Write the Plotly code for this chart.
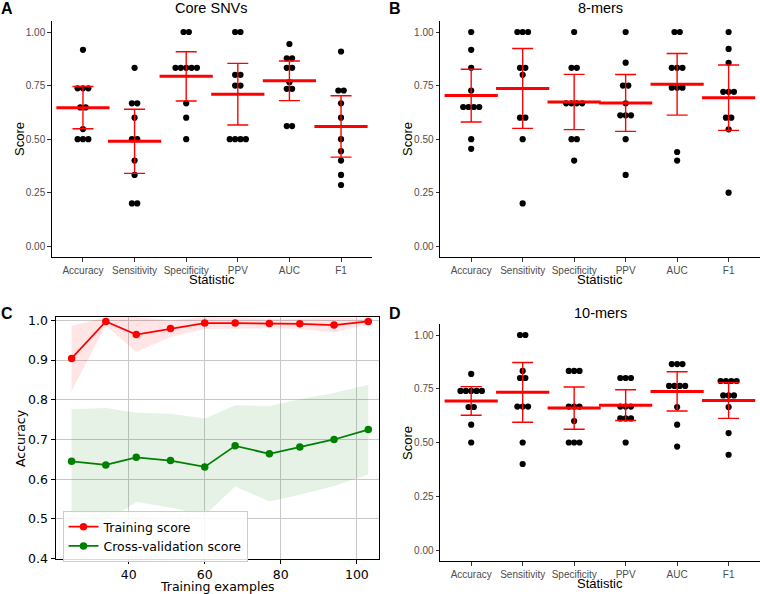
import plotly.graph_objects as go

W, H = 760, 594

categories = ["Accuracy", "Sensitivity", "Specificity", "PPV", "AUC", "F1"]

# Panel A: Core SNVs (10 folds per statistic)
core_accuracy = [0.917, 0.737, 0.737, 0.737, 0.648, 0.648, 0.547, 0.5, 0.5, 0.5]
core_sensitivity = [0.833, 0.667, 0.667, 0.6, 0.5, 0.5, 0.4, 0.333, 0.2, 0.2]
core_specificity = [1.0, 1.0, 0.833, 0.833, 0.833, 0.833, 0.833, 0.667, 0.6, 0.5]
core_ppv = [1.0, 1.0, 0.8, 0.8, 0.75, 0.75, 0.5, 0.5, 0.5, 0.5]
core_auc = [0.944, 0.877, 0.877, 0.833, 0.833, 0.766, 0.735, 0.735, 0.561, 0.561]
core_f1 = [0.909, 0.727, 0.727, 0.667, 0.6, 0.5, 0.444, 0.4, 0.333, 0.286]

# Panel B: 8-mers
mer8_accuracy = [1.0, 0.917, 0.833, 0.727, 0.65, 0.65, 0.65, 0.65, 0.5, 0.455]
mer8_sensitivity = [1.0, 1.0, 1.0, 0.833, 0.833, 0.8, 0.6, 0.6, 0.5, 0.2]
mer8_specificity = [1.0, 0.833, 0.833, 0.667, 0.667, 0.667, 0.667, 0.5, 0.5, 0.4]
mer8_ppv = [1.0, 0.857, 0.75, 0.75, 0.667, 0.611, 0.611, 0.611, 0.5, 0.333]
mer8_auc = [1.0, 1.0, 0.833, 0.833, 0.833, 0.74, 0.74, 0.74, 0.44, 0.4]
mer8_f1 = [1.0, 0.921, 0.856, 0.721, 0.721, 0.721, 0.6, 0.6, 0.546, 0.25]

# Panel D: 10-mers
mer10_accuracy = [0.819, 0.74, 0.74, 0.74, 0.74, 0.74, 0.665, 0.665, 0.583, 0.5]
mer10_sensitivity = [1.0, 1.0, 0.833, 0.8, 0.8, 0.667, 0.667, 0.667, 0.5, 0.4]
mer10_specificity = [0.833, 0.833, 0.833, 0.667, 0.667, 0.667, 0.6, 0.5, 0.5, 0.5]
mer10_ppv = [0.8, 0.8, 0.8, 0.667, 0.667, 0.667, 0.612, 0.612, 0.612, 0.5]
mer10_auc = [0.865, 0.865, 0.865, 0.763, 0.763, 0.763, 0.763, 0.665, 0.583, 0.481]
mer10_f1 = [0.786, 0.786, 0.786, 0.786, 0.719, 0.719, 0.719, 0.665, 0.544, 0.443]

# Panel C: learning curve
train_sizes = [25, 34, 42, 51, 60, 68, 77, 85, 94, 103]
train_mean = [0.904, 0.997, 0.964, 0.979, 0.993, 0.993, 0.992, 0.991, 0.988, 0.997]
train_std = [0.082, 0.010, 0.044, 0.021, 0.015, 0.014, 0.012, 0.013, 0.019, 0.007]
cv_mean = [0.645, 0.636, 0.655, 0.647, 0.631, 0.684, 0.664, 0.681, 0.700, 0.725]
cv_std = [0.131, 0.143, 0.112, 0.118, 0.122, 0.102, 0.120, 0.120, 0.117, 0.113]

panels = {
    "Core SNVs": [core_accuracy, core_sensitivity, core_specificity, core_ppv, core_auc, core_f1],
    "8-mers": [mer8_accuracy, mer8_sensitivity, mer8_specificity, mer8_ppv, mer8_auc, mer8_f1],
    "10-mers": [mer10_accuracy, mer10_sensitivity, mer10_specificity, mer10_ppv, mer10_auc, mer10_f1],
}

T95 = {7: 2.365, 8: 2.306, 9: 2.262, 10: 2.228, 11: 2.201}


def px(x):
    return x / W


def py(y):
    return 1 - y / H


def summary(vals):
    n = len(vals)
    m = sum(vals) / n
    sd = (sum((v - m) ** 2 for v in vals) / (n - 1)) ** 0.5
    return m, T95[n - 1] * sd / n ** 0.5


def swarm(vals, center, step=0.104):
    xs, ys = [], []
    seen = []
    for v in vals:
        key = round(v, 3)
        if key in seen:
            continue
        seen.append(key)
        k = sum(1 for w in vals if round(w, 3) == key)
        for i in range(k):
            xs.append(center + (i - (k - 1) / 2) * step)
            ys.append(v)
    return xs, ys


fig = go.Figure()

RED = "#FF0000"
dot_axes = [("Core SNVs", "x", "y"), ("8-mers", "x2", "y2"), ("10-mers", "x4", "y4")]
for name, xa, ya in dot_axes:
    data = panels[name]
    dx, dy, means, cis = [], [], [], []
    for i, vals in enumerate(data):
        sx, sy = swarm(vals, i + 1)
        dx += sx
        dy += sy
        m, ci = summary(vals)
        means.append(m)
        cis.append(ci)
    fig.add_trace(go.Scatter(x=dx, y=dy, mode="markers", xaxis=xa, yaxis=ya,
                             marker=dict(color="black", size=6.2), showlegend=False,
                             hoverinfo="skip"))
    fig.add_trace(go.Scatter(x=list(range(1, 7)), y=means, mode="markers", xaxis=xa, yaxis=ya,
                             marker=dict(symbol="line-ew", size=38, color=RED,
                                         line=dict(color=RED, width=3)),
                             error_y=dict(type="data", array=cis, visible=True, color=RED,
                                          thickness=1.4, width=10.5),
                             showlegend=False))

# Panel C traces
tr_up = [m + s for m, s in zip(train_mean, train_std)]
tr_lo = [m - s for m, s in zip(train_mean, train_std)]
cv_up = [m + s for m, s in zip(cv_mean, cv_std)]
cv_lo = [m - s for m, s in zip(cv_mean, cv_std)]

for up, lo, fc in [(tr_up, tr_lo, "rgba(255,0,0,0.1)"), (cv_up, cv_lo, "rgba(0,128,0,0.1)")]:
    fig.add_trace(go.Scatter(x=train_sizes, y=up, mode="lines", line=dict(width=0),
                             xaxis="x3", yaxis="y3", showlegend=False, hoverinfo="skip"))
    fig.add_trace(go.Scatter(x=train_sizes, y=lo, mode="lines", line=dict(width=0),
                             fill="tonexty", fillcolor=fc,
                             xaxis="x3", yaxis="y3", showlegend=False, hoverinfo="skip"))

fig.add_trace(go.Scatter(x=train_sizes, y=train_mean, mode="lines+markers", name="Training score",
                         line=dict(color="#FF0000", width=1.8), marker=dict(color="#FF0000", size=7.5),
                         xaxis="x3", yaxis="y3"))
fig.add_trace(go.Scatter(x=train_sizes, y=cv_mean, mode="lines+markers", name="Cross-validation score",
                         line=dict(color="#008000", width=1.8), marker=dict(color="#008000", size=7.5),
                         xaxis="x3", yaxis="y3"))

gg_font = "Liberation Sans, Arial, sans-serif"
mpl_font = "DejaVu Sans, sans-serif"


def gg_x(domain, anchor):
    return dict(domain=domain, anchor=anchor, range=[0.4, 6.6], tickvals=list(range(1, 7)),
                ticktext=categories, showline=True, linecolor="black", linewidth=1.1,
                ticks="outside", ticklen=3.7, tickwidth=1.1, tickcolor="#333333",
                tickfont=dict(family=gg_font, size=10, color="#4D4D4D"),
                showgrid=False, zeroline=False, fixedrange=True, automargin=False)


def gg_y(domain, anchor):
    return dict(domain=domain, anchor=anchor, range=[-0.05, 1.05],
                tickvals=[0, 0.25, 0.5, 0.75, 1.0], ticktext=["0.00", "0.25", "0.50", "0.75", "1.00"],
                showline=True, linecolor="black", linewidth=1.1,
                ticks="outside", ticklen=3.7, tickwidth=1.1, tickcolor="#333333",
                tickfont=dict(family=gg_font, size=10, color="#4D4D4D"),
                showgrid=False, zeroline=False, fixedrange=True, automargin=False)


top_y = [py(257), py(21.3)]
dom_xA = [px(52), px(372)]
dom_xB = [px(440.3), px(759.5)]
dom_xC = [px(56), px(379.3)]
dom_yC = [py(558.7), py(316.7)]
dom_yD = [py(560.75), py(324.25)]

layout = dict(
    template="none",
    width=W, height=H, margin=dict(l=0, r=0, t=0, b=0, pad=0), autosize=False,
    paper_bgcolor="white", plot_bgcolor="white",
    xaxis=gg_x(dom_xA, "y"), yaxis=gg_y(top_y, "x"),
    xaxis2=gg_x(dom_xB, "y2"), yaxis2=gg_y(top_y, "x2"),
    xaxis4=gg_x(dom_xB, "y4"), yaxis4=gg_y(dom_yD, "x4"),
    xaxis3=dict(domain=dom_xC, anchor="y3", range=[20.9, 105.9], tickvals=[40, 60, 80, 100],
                showline=True, mirror=True, linecolor="black", linewidth=1,
                ticks="outside", ticklen=4.5, tickcolor="black", tickwidth=1,
                tickfont=dict(family=mpl_font, size=12.5, color="black"),
                showgrid=True, gridcolor="#c8c8c8", gridwidth=1, zeroline=False, automargin=False),
    yaxis3=dict(domain=dom_yC, anchor="x3", range=[0.4, 1.009],
                tickvals=[0.4, 0.5, 0.6, 0.7, 0.8, 0.9, 1.0], tickformat=".1f",
                showline=True, mirror=True, linecolor="black", linewidth=1,
                ticks="outside", ticklen=4.5, tickcolor="black", tickwidth=1,
                tickfont=dict(family=mpl_font, size=12.5, color="black"),
                showgrid=True, gridcolor="#c8c8c8", gridwidth=1, zeroline=False, automargin=False),
    legend=dict(x=px(62.5), y=py(511), xanchor="left", yanchor="top",
                bgcolor="rgba(255,255,255,0.85)", bordercolor="#cccccc", borderwidth=1,
                font=dict(family=mpl_font, size=12.5, color="black"),
                tracegroupgap=0, traceorder="normal", itemwidth=30),
    showlegend=True,
)
fig.update_layout(**layout)

ann = []


def add_text(text, x, y, size, family=gg_font, color="black", angle=0, bold=False):
    ann.append(dict(text=("<b>%s</b>" % text) if bold else text, x=px(x), y=py(y),
                    xref="paper", yref="paper", showarrow=False, xanchor="center",
                    yanchor="middle", textangle=angle,
                    font=dict(family=family, size=size, color=color)))


# Panel letters
add_text("A", 7, 8.5, 16, bold=True)
add_text("B", 395, 8.5, 16, bold=True)
add_text("C", 7, 313, 16, bold=True)
add_text("D", 395, 313, 16, bold=True)
# Titles
add_text("Core SNVs", 212, 8.5, 14.5)
add_text("8-mers", 600, 8.5, 14.5)
add_text("10-mers", 600, 312.5, 14.5)
# Axis titles
add_text("Statistic", 212, 279, 13)
add_text("Statistic", 600, 279, 13)
add_text("Statistic", 600, 583.5, 13)
add_text("Score", 19, 139, 13, angle=-90)
add_text("Score", 407, 139, 13, angle=-90)
add_text("Score", 407, 443, 13, angle=-90)
add_text("Accuracy", 20, 438, 12.5, family=mpl_font, angle=-90)
add_text("Training examples", 217, 586, 12.5, family=mpl_font)

fig.update_layout(annotations=ann)
fig.write_html("out.html", config={"displayModeBar": False},
               post_script="document.body.style.margin='0';document.body.style.overflow='hidden';")
